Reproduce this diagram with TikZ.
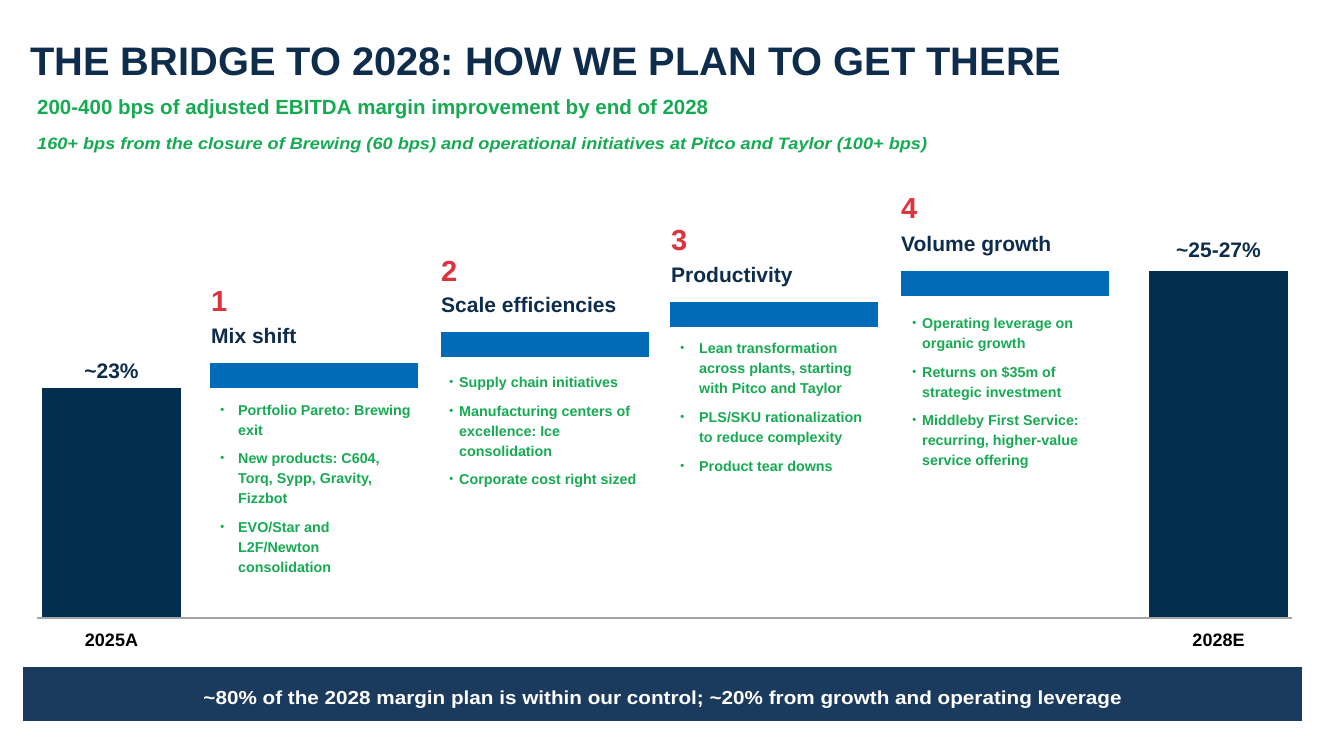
\documentclass[tikz,border=0pt]{standalone}
\usepackage{fontspec}
\setmainfont{Liberation Sans}
\newfontfamily\widefont[FakeStretch=1.1]{Liberation Sans}
\usetikzlibrary{positioning}
\frenchspacing

\definecolor{titlenavy}{RGB}{14,44,76}
\definecolor{barnavy}{RGB}{4,46,77}
\definecolor{stepblue}{RGB}{0,107,182}
\definecolor{itemgreen}{RGB}{22,170,82}
\definecolor{numred}{RGB}{221,51,63}
\definecolor{bannerblue}{RGB}{27,59,94}
\definecolor{axisgrey}{RGB}{165,165,165}

% маркер списка с отступом до текста
\newcommand{\bul}[1]{\llap{\raisebox{1.5pt}{\fontsize{11}{11}\selectfont\textbullet}\hspace{#1}}}

\tikzset{
  num/.style={anchor=base west, inner sep=0, text=numred, font=\bfseries\fontsize{29}{30}\selectfont},
  head/.style={anchor=base west, inner sep=0, text=titlenavy, font=\bfseries\fontsize{21}{24}\selectfont},
  item/.style={anchor=base west, inner sep=0, align=left, text=itemgreen, font=\bfseries\fontsize{14.3}{20}\selectfont},
  pct/.style={anchor=base, inner sep=0, text=titlenavy, font=\bfseries\fontsize{21}{24}\selectfont},
  year/.style={anchor=base, inner sep=0, text=black, font=\bfseries\fontsize{18}{20}\selectfont}
}

\begin{document}
\begin{tikzpicture}[x=1pt, y=-1pt]
  \useasboundingbox[fill=white] (0,0) rectangle (1330,748);

  % Заголовок и подзаголовки
  \node[anchor=base west, inner sep=0, text=titlenavy, font=\bfseries\fontsize{39.8}{44}\selectfont] (title) at (30,75) {THE BRIDGE TO 2028: HOW WE PLAN TO GET THERE};
  \node[anchor=base west, inner sep=0, text=itemgreen, font=\bfseries\fontsize{20.5}{22}\selectfont] (sub) at (37,114) {200-400 bps of adjusted EBITDA margin improvement by end of 2028};
  \node[anchor=base west, inner sep=0, text=itemgreen, font=\widefont\bfseries\itshape\fontsize{16.5}{20}\selectfont] (note) at (37,149) {160+ bps from the closure of Brewing (60 bps) and operational initiatives at Pitco and Taylor (100+ bps)};

  % Столбцы 2025A и 2028E
  \fill[barnavy] (42,388) rectangle (181,618);
  \fill[barnavy] (1149,271) rectangle (1288,618);
  \draw[axisgrey, line width=2] (37,618) -- (1292,618);
  \node[pct] (p25) at (111.5,378) {\textasciitilde 23\%};
  \node[pct] (p28) at (1218.5,257) {\textasciitilde 25-27\%};
  \node[year] (y25) at (111.5,646) {2025A};
  \node[year] (y28) at (1218.5,646) {2028E};

  % Шаг 1 (base = последняя строка)
  \node[num] (n1) at (211,311) {1};
  \node[head] (h1) at (211,343) {Mix shift};
  \fill[stepblue] (210,363) rectangle (418,388);
  \node[item] (i11) at (238,435) {\bul{14pt}Portfolio Pareto: Brewing\\exit};
  \node[item] (i12) at (238,503) {\bul{14pt}New products: C604,\\Torq, Sypp, Gravity,\\Fizzbot};
  \node[item] (i13) at (238,572) {\bul{14pt}EVO/Star and\\L2F/Newton\\consolidation};

  % Шаг 2
  \node[num] (n2) at (441,281) {2};
  \node[head] (h2) at (441,312) {Scale efficiencies};
  \fill[stepblue] (441,332) rectangle (649,357);
  \node[item] (i21) at (459,387) {\bul{6pt}Supply chain initiatives};
  \node[item] (i22) at (459,456) {\bul{6pt}Manufacturing centers of\\excellence: Ice\\consolidation};
  \node[item] (i23) at (459,484) {\bul{6pt}Corporate cost right sized};

  % Шаг 3
  \node[num] (n3) at (671,250) {3};
  \node[head] (h3) at (671,282) {Productivity};
  \fill[stepblue] (670,302) rectangle (878,327);
  \node[item] (i31) at (699,393) {\bul{15pt}Lean transformation\\across plants, starting\\with Pitco and Taylor};
  \node[item] (i32) at (699,442) {\bul{15pt}PLS/SKU rationalization\\to reduce complexity};
  \node[item] (i33) at (699,471) {\bul{15pt}Product tear downs};

  % Шаг 4
  \node[num] (n4) at (901,218) {4};
  \node[head] (h4) at (901,251) {Volume growth};
  \fill[stepblue] (901,271) rectangle (1109,296);
  \node[item] (i41) at (922,348) {\bul{6pt}Operating leverage on\\organic growth};
  \node[item] (i42) at (922,397) {\bul{6pt}Returns on \$35m of\\strategic investment};
  \node[item] (i43) at (922,465) {\bul{6pt}Middleby First Service:\\recurring, higher-value\\service offering};

  % Нижняя плашка
  \fill[bannerblue] (23,667) rectangle (1302,721);
  \node[anchor=base, text=white, inner sep=0, font=\widefont\bfseries\fontsize{18.8}{22}\selectfont] (msg) at (662.5,704) {\textasciitilde 80\% of the 2028 margin plan is within our control; \textasciitilde 20\% from growth and operating leverage};
\end{tikzpicture}
\end{document}
